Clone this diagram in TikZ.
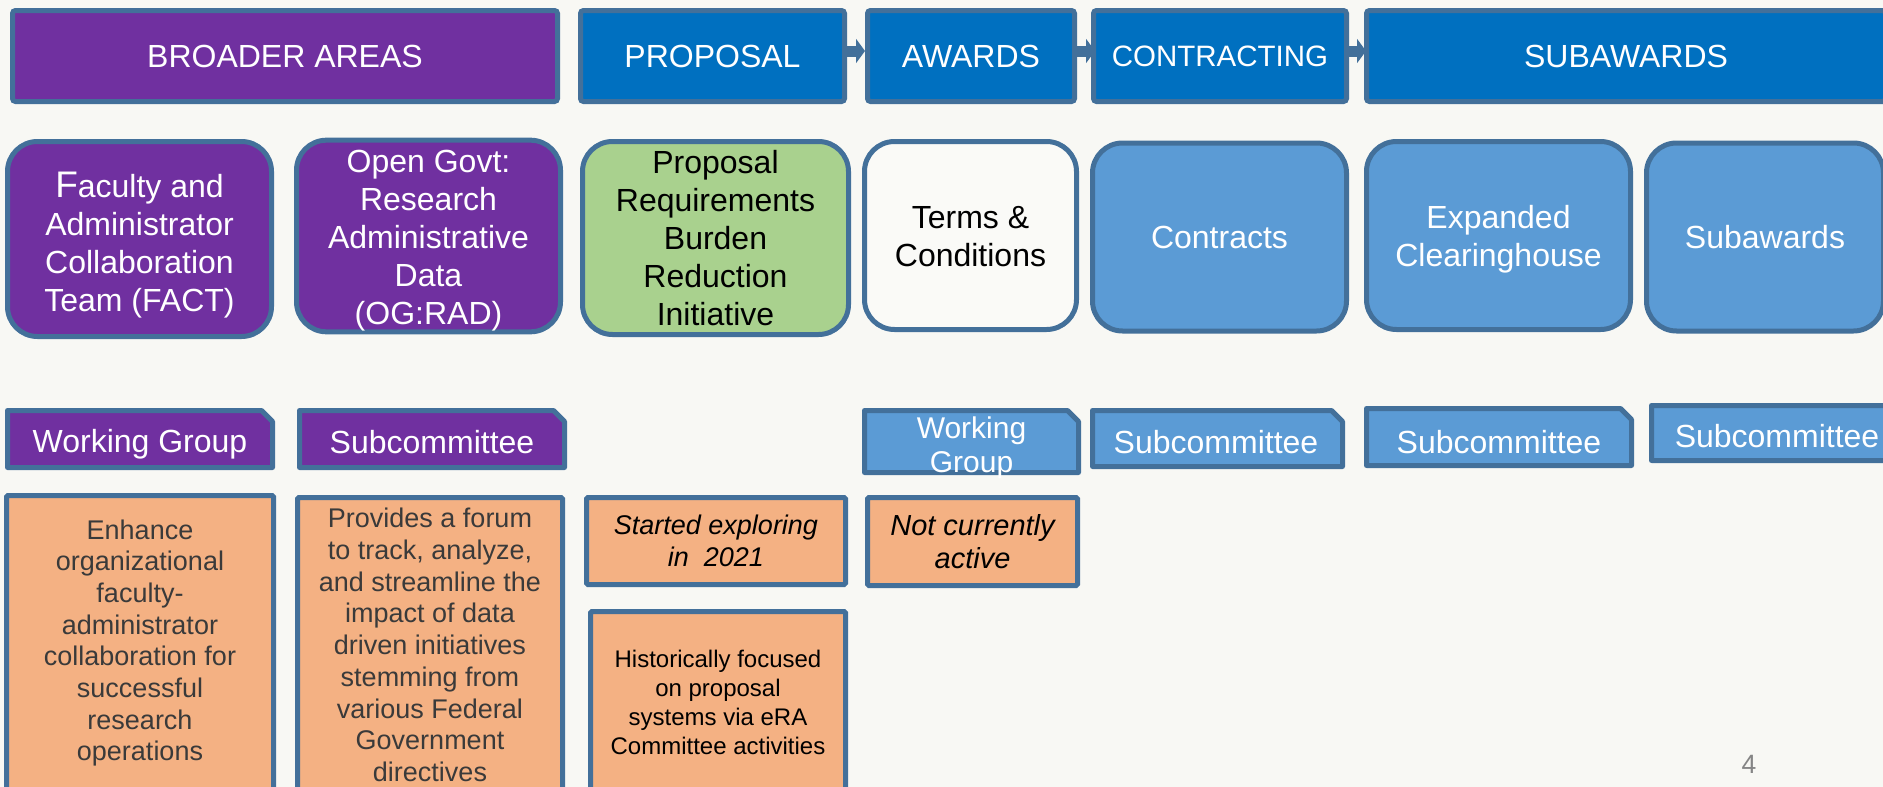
\documentclass[tikz,border=0pt]{standalone}
\usepackage{fontspec}
\setmainfont{Liberation Sans}
\usetikzlibrary{arrows.meta}
\definecolor{bgc}{HTML}{F8F8F4}
\definecolor{edgec}{HTML}{43709A}
\definecolor{purp}{HTML}{7030A0}
\definecolor{hblue}{HTML}{0070C0}
\definecolor{lblue}{HTML}{5B9BD5}
\definecolor{grn}{HTML}{A9D18E}
\definecolor{peach}{HTML}{F4B183}
\definecolor{termsc}{HTML}{FAFAF7}
\definecolor{dgray}{HTML}{3A3A3A}
\definecolor{pnum}{HTML}{858585}
% snipped-corner box: L T R B fill
\newcommand\snipshape[5]{%
  \draw[draw=edgec, line width=5pt, fill=#5, line join=round]
    (#1+2.5,#2+2.5) -- (#3-13.5,#2+2.5) -- (#3-2.5,#2+13.5) -- (#3-2.5,#4-2.5) -- (#1+2.5,#4-2.5) -- cycle;}
\begin{document}
\begin{tikzpicture}[x=1pt,y=-1pt,
  hdr/.style={draw=edgec, line width=5pt, rounded corners=3pt, minimum height=91pt, text=white, font=\fontsize{32}{38}\selectfont, inner sep=1pt},
  rbox/.style={draw=edgec, line width=5pt, rounded corners=30pt, font=\fontsize{32}{38}\selectfont, align=center, inner sep=1pt},
  snipt/.style={text=white, font=\fontsize{32}{38}\selectfont, align=center, inner sep=0pt},
  dbox/.style={draw=edgec, line width=5pt, fill=peach, align=center, inner sep=1pt, rounded corners=1.5pt},
  harrow/.style={draw=edgec, line width=11pt, -{Triangle[width=24pt,length=9pt]}}
]
\useasboundingbox (0,0) rectangle (1883,787);
\fill[bgc] (0,0) rectangle (1883,787);

% header row
\node[hdr, fill=purp, minimum width=545pt] (broad) at (285,56) {BROADER AREAS};
\node[hdr, fill=hblue, minimum width=264pt] (prop) at (712.5,56) {PROPOSAL};
\node[hdr, fill=hblue, minimum width=207pt] (awd) at (971,56) {AWARDS};
\node[hdr, fill=hblue, minimum width=253pt, font=\fontsize{29.5}{36}\selectfont] (con) at (1220,56) {CONTRACTING};
\node[hdr, fill=hblue, minimum width=519pt] (sub) at (1626,56) {SUBAWARDS};
\draw[harrow] ([yshift=5pt]prop.east) -- ([yshift=5pt]awd.west);
\draw[harrow] ([yshift=5pt]awd.east) -- ([yshift=5pt,xshift=4pt]con.west);
\draw[harrow] ([yshift=5pt]con.east) -- ([yshift=5pt,xshift=2pt]sub.west);

% rounded row
\node[rbox, fill=purp, text=white, minimum width=264pt, minimum height=195pt] (fact) at (139.5,239)
  {\rule{0pt}{38.5pt}{\fontsize{37}{38}\selectfont F}aculty and\\Administrator\\Collaboration\\Team (FACT)};
\node[rbox, fill=purp, text=white, minimum width=264pt, minimum height=191pt] (ograd) at (428.5,236)
  {\rule{0pt}{31pt}Open Govt:\\Research\\Administrative\\Data\\(OG:RAD)};
\node[rbox, fill=grn, text=black, minimum width=266pt, minimum height=193pt] (prb) at (715.5,238)
  {Proposal\\Requirements\\Burden\\Reduction\\Initiative};
\node[rbox, fill=termsc, text=black, minimum width=212pt, minimum height=188pt] (terms) at (970.5,235.5)
  {\rule{0pt}{25pt}Terms \&\\Conditions};
\node[rbox, fill=lblue, text=white, minimum width=254pt, minimum height=188pt] (contr) at (1219.5,237) {Contracts};
\node[rbox, fill=lblue, text=white, minimum width=264pt, minimum height=188pt] (expc) at (1498.5,235.5) {\rule{0pt}{31.5pt}Expanded\\Clearinghouse};
\node[rbox, fill=lblue, text=white, minimum width=237pt, minimum height=188pt] (subw) at (1765,237) {Subawards};

% snipped row
\snipshape{5}{408}{275}{470}{purp}
\node[snipt] (wg1) at (140,444) {Working Group};
\snipshape{297}{408}{567}{470}{purp}
\node[snipt] (sc1) at (432,442) {Subcommittee};
\snipshape{862}{408}{1081}{475}{lblue}
\node[snipt, font=\fontsize{30}{34}\selectfont] (wg2) at (971.5,448) {Working\\Group};
\snipshape{1090}{408}{1345}{469}{lblue}
\node[snipt] (sc2) at (1216,442.5) {Subcommittee};
\snipshape{1364}{406}{1634}{468}{lblue}
\node[snipt] (sc3) at (1499,442) {Subcommittee};
\snipshape{1649}{403}{1905}{463}{lblue}
\node[snipt] (sc4) at (1777,436) {Subcommittee};

% description row
\node[dbox, minimum width=267pt, minimum height=295pt, text=dgray, font=\fontsize{27}{31.7}\selectfont] (enh) at (140,643)
  {Enhance\\organizational\\faculty-\\administrator\\collaboration for\\successful\\research\\operations};
\node[dbox, minimum width=265pt, minimum height=295pt, text=dgray, font=\fontsize{27}{31.7}\selectfont] (prov) at (430,645)
  {Provides a forum\\to track, analyze,\\and streamline the\\impact of data\\driven initiatives\\stemming from\\various Federal\\Government\\directives};
\node[dbox, minimum width=259pt, minimum height=87pt, text=black, font=\fontsize{27}{31.7}\selectfont\itshape] (start) at (716,541)
  {Started exploring\\in\ \ 2021};
\node[dbox, minimum width=210pt, minimum height=88pt, text=black, font=\fontsize{29}{33}\selectfont\itshape] (notc) at (972.5,541.5)
  {Not currently\\active};
\node[dbox, minimum width=255pt, minimum height=182pt, text=black, font=\fontsize{24}{29}\selectfont] (hist) at (718,702.5)
  {Historically focused\\on proposal\\systems via eRA\\Committee activities};

\node[text=pnum, font=\fontsize{26.5}{30}\selectfont, inner sep=0pt] (pg) at (1749,764) {4};
\end{tikzpicture}
\end{document}
